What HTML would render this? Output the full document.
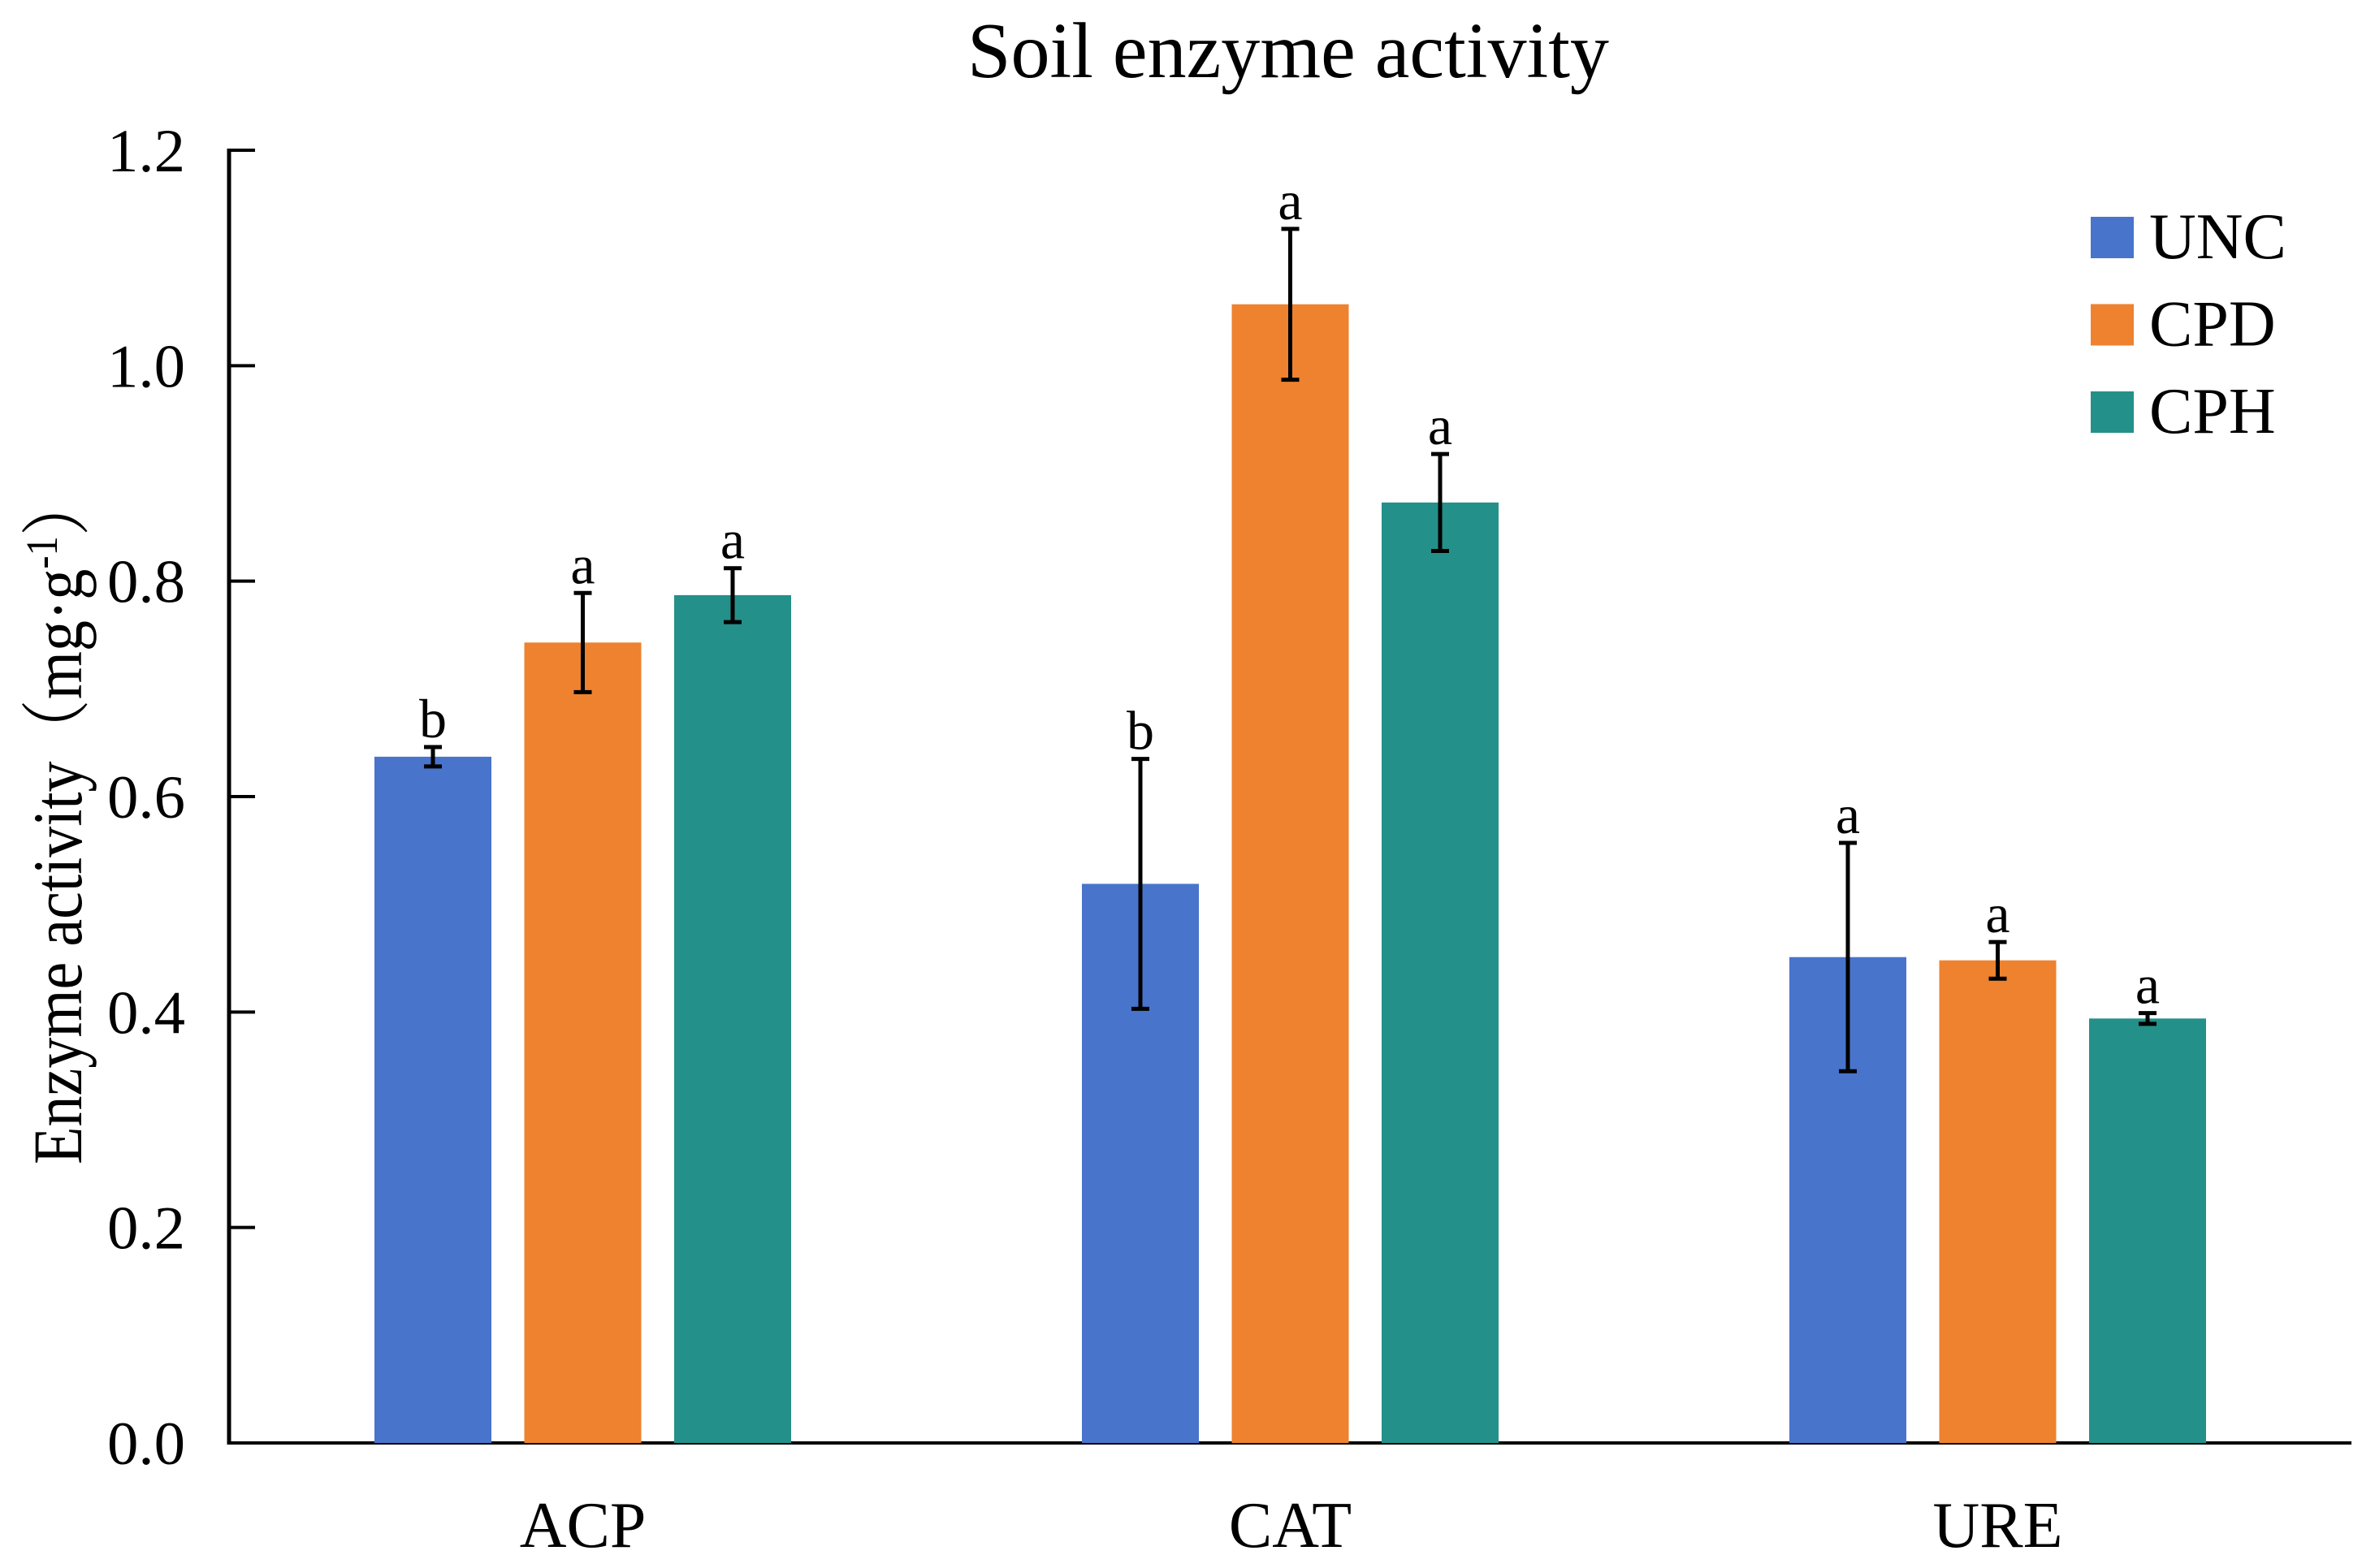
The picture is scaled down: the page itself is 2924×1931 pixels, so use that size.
<!DOCTYPE html>
<html><head><meta charset="utf-8"><style>
html,body{margin:0;padding:0;background:#fff}
svg{display:block}
text{font-family:"Liberation Serif","Noto Serif CJK SC",serif;fill:#000}
</style></head><body>
<svg id="chart" width="2924" height="1931" viewBox="0 0 2924 1931" xmlns="http://www.w3.org/2000/svg">
<text x="1586" y="95" font-size="98" text-anchor="middle" textLength="790" lengthAdjust="spacingAndGlyphs">Soil enzyme activity</text>
<text transform="translate(100,1009) rotate(-90)" font-size="86" text-anchor="middle" textLength="850" lengthAdjust="spacingAndGlyphs">Enzyme activity（mg·g<tspan baseline-shift="super" font-size="55">-1</tspan>）</text>
<g id="axes"></g>
<g id="bars"></g>
<g id="legend"></g>
</svg>
<script>
const categories = ["ACP", "CAT", "URE"];
const series = ["UNC", "CPD", "CPH"];
const colors = ["#4874CB", "#EE822F", "#24908A"];
const valsUNC = [0.637, 0.519, 0.451];
const valsCPD = [0.743, 1.057, 0.448];
const valsCPH = [0.787, 0.873, 0.394];
const errUNC = [0.009, 0.116, 0.106];
const errCPD = [0.046, 0.070, 0.017];
const errCPH = [0.025, 0.045, 0.005];
const lettersUNC = ["b", "b", "a"];
const lettersCPD = ["a", "a", "a"];
const lettersCPH = ["a", "a", "a"];
const yTicks = [0.0, 0.2, 0.4, 0.6, 0.8, 1.0, 1.2];

const NS = "http://www.w3.org/2000/svg";
const X0 = 282, X1 = 2895, Y0 = 1777, Y1 = 185, YMAX = 1.2;
const y = v => Y0 - (v / YMAX) * (Y0 - Y1);
const groupW = (X1 - X0) / categories.length;
const gx = i => X0 + groupW * (i + 0.5);
const barW = 144, step = 184.5;
const bx = (i, s) => gx(i) + (s - 1) * step - barW / 2;

function mk(tag, attrs, parent) {
  const e = document.createElementNS(NS, tag);
  for (const k in attrs) e.setAttribute(k, attrs[k]);
  parent.appendChild(e);
  return e;
}
const axes = document.getElementById("axes");
const bars = document.getElementById("bars");
const legend = document.getElementById("legend");

const yAxis = mk("line", {x1: X0, y1: Y1 - 2, x2: X0, y2: Y0 + 2, stroke: "#000", "stroke-width": 5}, axes);


const xAxis = mk("line", {x1: X0 - 2, y1: Y0, x2: X1, y2: Y0, stroke: "#000", "stroke-width": 4}, axes);



yTicks.forEach(t => {
  const tk = mk("line", {x1: X0, y1: y(t), x2: X0 + 32, y2: y(t), stroke: "#000", "stroke-width": 4}, axes);
  
  
  const lb = mk("text", {x: 228, y: y(t) + 26, "font-size": 75, "text-anchor": "end", textLength: 96, lengthAdjust: "spacingAndGlyphs"}, axes);
  lb.textContent = t.toFixed(1);
  
  
});

categories.forEach((c, i) => {
  const lb = mk("text", {x: gx(i), y: 1905, "font-size": 80, "text-anchor": "middle"}, axes);
  lb.textContent = c;
  
  
});

const allVals = [valsUNC, valsCPD, valsCPH];
const allErr = [errUNC, errCPD, errCPH];
const allLetters = [lettersUNC, lettersCPD, lettersCPH];
series.forEach((s, si) => {
  categories.forEach((c, i) => {
    const v = allVals[si][i], e = allErr[si][i];
    const r = mk("rect", {x: bx(i, si), y: y(v), width: barW, height: Y0 - y(v), fill: colors[si]}, bars);
    
    
    const cx = bx(i, si) + barW / 2;
    const g = mk("g", {stroke: "#000", "stroke-width": 5}, bars);
    
    
    mk("line", {x1: cx, y1: y(v + e), x2: cx, y2: y(v - e)}, g);
    mk("line", {x1: cx - 11, y1: y(v + e), x2: cx + 11, y2: y(v + e)}, g);
    mk("line", {x1: cx - 11, y1: y(v - e), x2: cx + 11, y2: y(v - e)}, g);
    const lt = mk("text", {x: cx, y: y(v + e) - 12, "font-size": 68, "text-anchor": "middle"}, bars);
    lt.textContent = allLetters[si][i];
    
    
  });
});

series.forEach((s, si) => {
  const g = mk("g", {}, legend);
  
  
  const top = 267 + si * 107.5;
  mk("rect", {x: 2574, y: top, width: 53, height: 51, fill: colors[si]}, g);
  const t = mk("text", {x: 2646, y: top + 51, "font-size": 80}, g);
  t.textContent = s;
});
</script>
</body></html>
